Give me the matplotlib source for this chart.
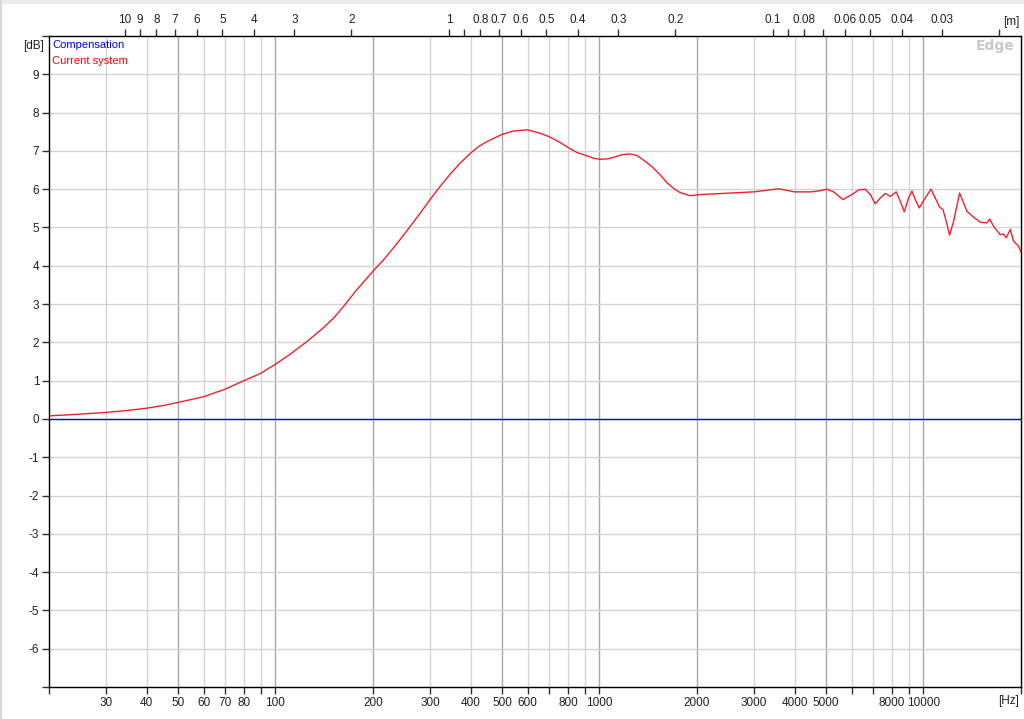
import numpy as np
import matplotlib
matplotlib.use("Agg")
import matplotlib.pyplot as plt
from matplotlib.patches import Rectangle

# frequency response
freq_hz = [20, 24.4, 30, 34.8, 40, 45, 50, 60, 70, 80, 90, 100, 111, 125, 140.6, 151,
           162, 178, 182.5, 200, 215.4, 231, 245.4, 260, 279.5, 300, 322, 346, 371.5,
           400, 423, 449, 500, 543, 600, 656, 700, 756, 800, 851, 900, 959, 1000,
           1054, 1104, 1173, 1244, 1305, 1368, 1452, 1541, 1615, 1694, 1775, 1906,
           2050, 2415, 3000, 3570, 4000, 4500, 4801, 5035, 5280, 5641, 6015, 6306,
           6612, 6852, 7100, 7357, 7622, 7898, 8243, 8481, 8725, 8998, 9213, 9434,
           9706, 10057, 10545, 10874, 11215, 11484, 11759, 12040, 12388, 12926,
           13362, 13619, 14278, 14973, 15701, 16000, 16462, 17259, 17673, 18012,
           18532, 18976, 19662, 20000]
current_db = [0.08, 0.12, 0.17, 0.22, 0.28, 0.35, 0.43, 0.58, 0.78, 1.00, 1.19, 1.43,
              1.69, 2.02, 2.38, 2.63, 2.93, 3.37, 3.47, 3.86, 4.15, 4.46, 4.74, 5.02,
              5.37, 5.73, 6.07, 6.39, 6.68, 6.94, 7.11, 7.24, 7.43, 7.52, 7.55, 7.46,
              7.37, 7.22, 7.09, 6.96, 6.89, 6.81, 6.78, 6.79, 6.83, 6.90, 6.92, 6.88,
              6.76, 6.59, 6.37, 6.17, 6.02, 5.91, 5.83, 5.86, 5.89, 5.93, 6.01, 5.93,
              5.93, 5.96, 6.00, 5.93, 5.73, 5.86, 5.98, 6.00, 5.86, 5.62, 5.77, 5.89,
              5.81, 5.93, 5.68, 5.41, 5.77, 5.95, 5.73, 5.51, 5.73, 6.00, 5.77, 5.53,
              5.47, 5.16, 4.80, 5.16, 5.90, 5.60, 5.42, 5.27, 5.14, 5.12, 5.22, 5.03,
              4.81, 4.83, 4.73, 4.95, 4.64, 4.51, 4.35]

comp_freq = [20, 20000]
comp_db = [0, 0]

# axis ticks
y_ticks = list(range(-7, 11))
y_labels = [str(v) if -7 < v < 10 else "" for v in y_ticks]
f_ticks = [m * 10 ** e for e in (1, 2, 3, 4) for m in range(1, 10) if 20 <= m * 10 ** e <= 20000]
f_labeled = [30, 40, 50, 60, 70, 80, 100, 200, 300, 400, 500, 600, 800,
             1000, 2000, 3000, 4000, 5000, 8000, 10000]
f_major = [50, 100, 200, 500, 1000, 2000, 5000, 10000]
wl_ticks = [10, 9, 8, 7, 6, 5, 4, 3, 2, 1, 0.9, 0.8, 0.7, 0.6, 0.5, 0.4, 0.3,
            0.2, 0.1, 0.09, 0.08, 0.07, 0.06, 0.05, 0.04, 0.03, 0.02]
wl_labeled = [10, 9, 8, 7, 6, 5, 4, 3, 2, 1, 0.8, 0.7, 0.6, 0.5, 0.4, 0.3,
              0.2, 0.1, 0.08, 0.06, 0.05, 0.04, 0.03]
SOUND_SPEED = 343.0

plt.rcParams['font.family'] = ['Liberation Sans', 'DejaVu Sans']

fig = plt.figure(figsize=(10.24, 7.19), dpi=100, facecolor='white')
ax = fig.add_axes([49 / 1024, 32 / 719, 972 / 1024, 651 / 719])
ax.set_facecolor('white')

ax.set_xscale('log')
ax.set_xlim(20, 20000)
ax.set_ylim(-7, 10)

# grid: light for every tick, darker for 1-2-5 lines
for f in f_ticks:
    if f in (20, 20000):
        continue
    col = '#a8a8a8' if f in f_major else '#d4d4d4'
    ax.axvline(f, color=col, linewidth=1, zorder=1)
for v in range(-6, 10):
    ax.axhline(v, color='#d4d4d4', linewidth=1, zorder=1)

ax.plot(comp_freq, comp_db, color='#0000ff', linewidth=1, zorder=3)
ax.plot(freq_hz, current_db, color='#f0202a', linewidth=1, zorder=4)

ax.set_xticks(f_ticks)
ax.set_xticklabels([str(f) if f in f_labeled else "" for f in f_ticks])
ax.xaxis.set_minor_locator(matplotlib.ticker.NullLocator())
ax.set_yticks(y_ticks)
ax.set_yticklabels(y_labels)
ax.tick_params(axis='both', direction='out', length=5, width=1, color='#303030',
               labelsize=8.5, labelcolor='#202020', pad=2)

for s in ax.spines.values():
    s.set_color('#303030')
    s.set_linewidth(1)

# top axis: wavelength in metres
ax2 = ax.twiny()
ax2.set_xscale('log')
ax2.set_xlim(20, 20000)
ax2.set_xticks([SOUND_SPEED / w for w in wl_ticks])
ax2.set_xticklabels([("%g" % w) if w in wl_labeled else "" for w in wl_ticks])
ax2.xaxis.set_minor_locator(matplotlib.ticker.NullLocator())
ax2.tick_params(axis='x', direction='out', length=5, width=1, color='#303030',
                labelsize=8.5, labelcolor='#202020', pad=2)

# units and legend text
ax.text(-0.005, 0.985, "[dB]", transform=ax.transAxes, ha='right', va='center',
        fontsize=8.5, color='#202020')
ax.text(0.998, -0.022, "[Hz]", transform=ax.transAxes, ha='right', va='center',
        fontsize=8.5, color='#202020')
ax.text(0.998, 1.022, "[m]", transform=ax.transAxes, ha='right', va='center',
        fontsize=8.5, color='#202020')
ax.text(0.003, 0.986, "Compensation", transform=ax.transAxes, ha='left', va='center',
        fontsize=8, color='#0000ff')
ax.text(0.003, 0.962, "Current system", transform=ax.transAxes, ha='left', va='center',
        fontsize=8, color='#ff0000')
ax.text(0.993, 0.985, "Edge", transform=ax.transAxes, ha='right', va='center',
        fontsize=10, color='#c8c8c8', fontweight='bold', family='DejaVu Sans')

# window chrome
fig.add_artist(Rectangle((0, 1 - 4 / 719), 1, 4 / 719, transform=fig.transFigure,
                         facecolor='#ececec', edgecolor='none'))
fig.add_artist(Rectangle((0, 0), 2 / 1024, 1, transform=fig.transFigure,
                         facecolor='#d8d8d8', edgecolor='none'))

fig.savefig("out.png", dpi=100, facecolor='white')
plt.close(fig)
